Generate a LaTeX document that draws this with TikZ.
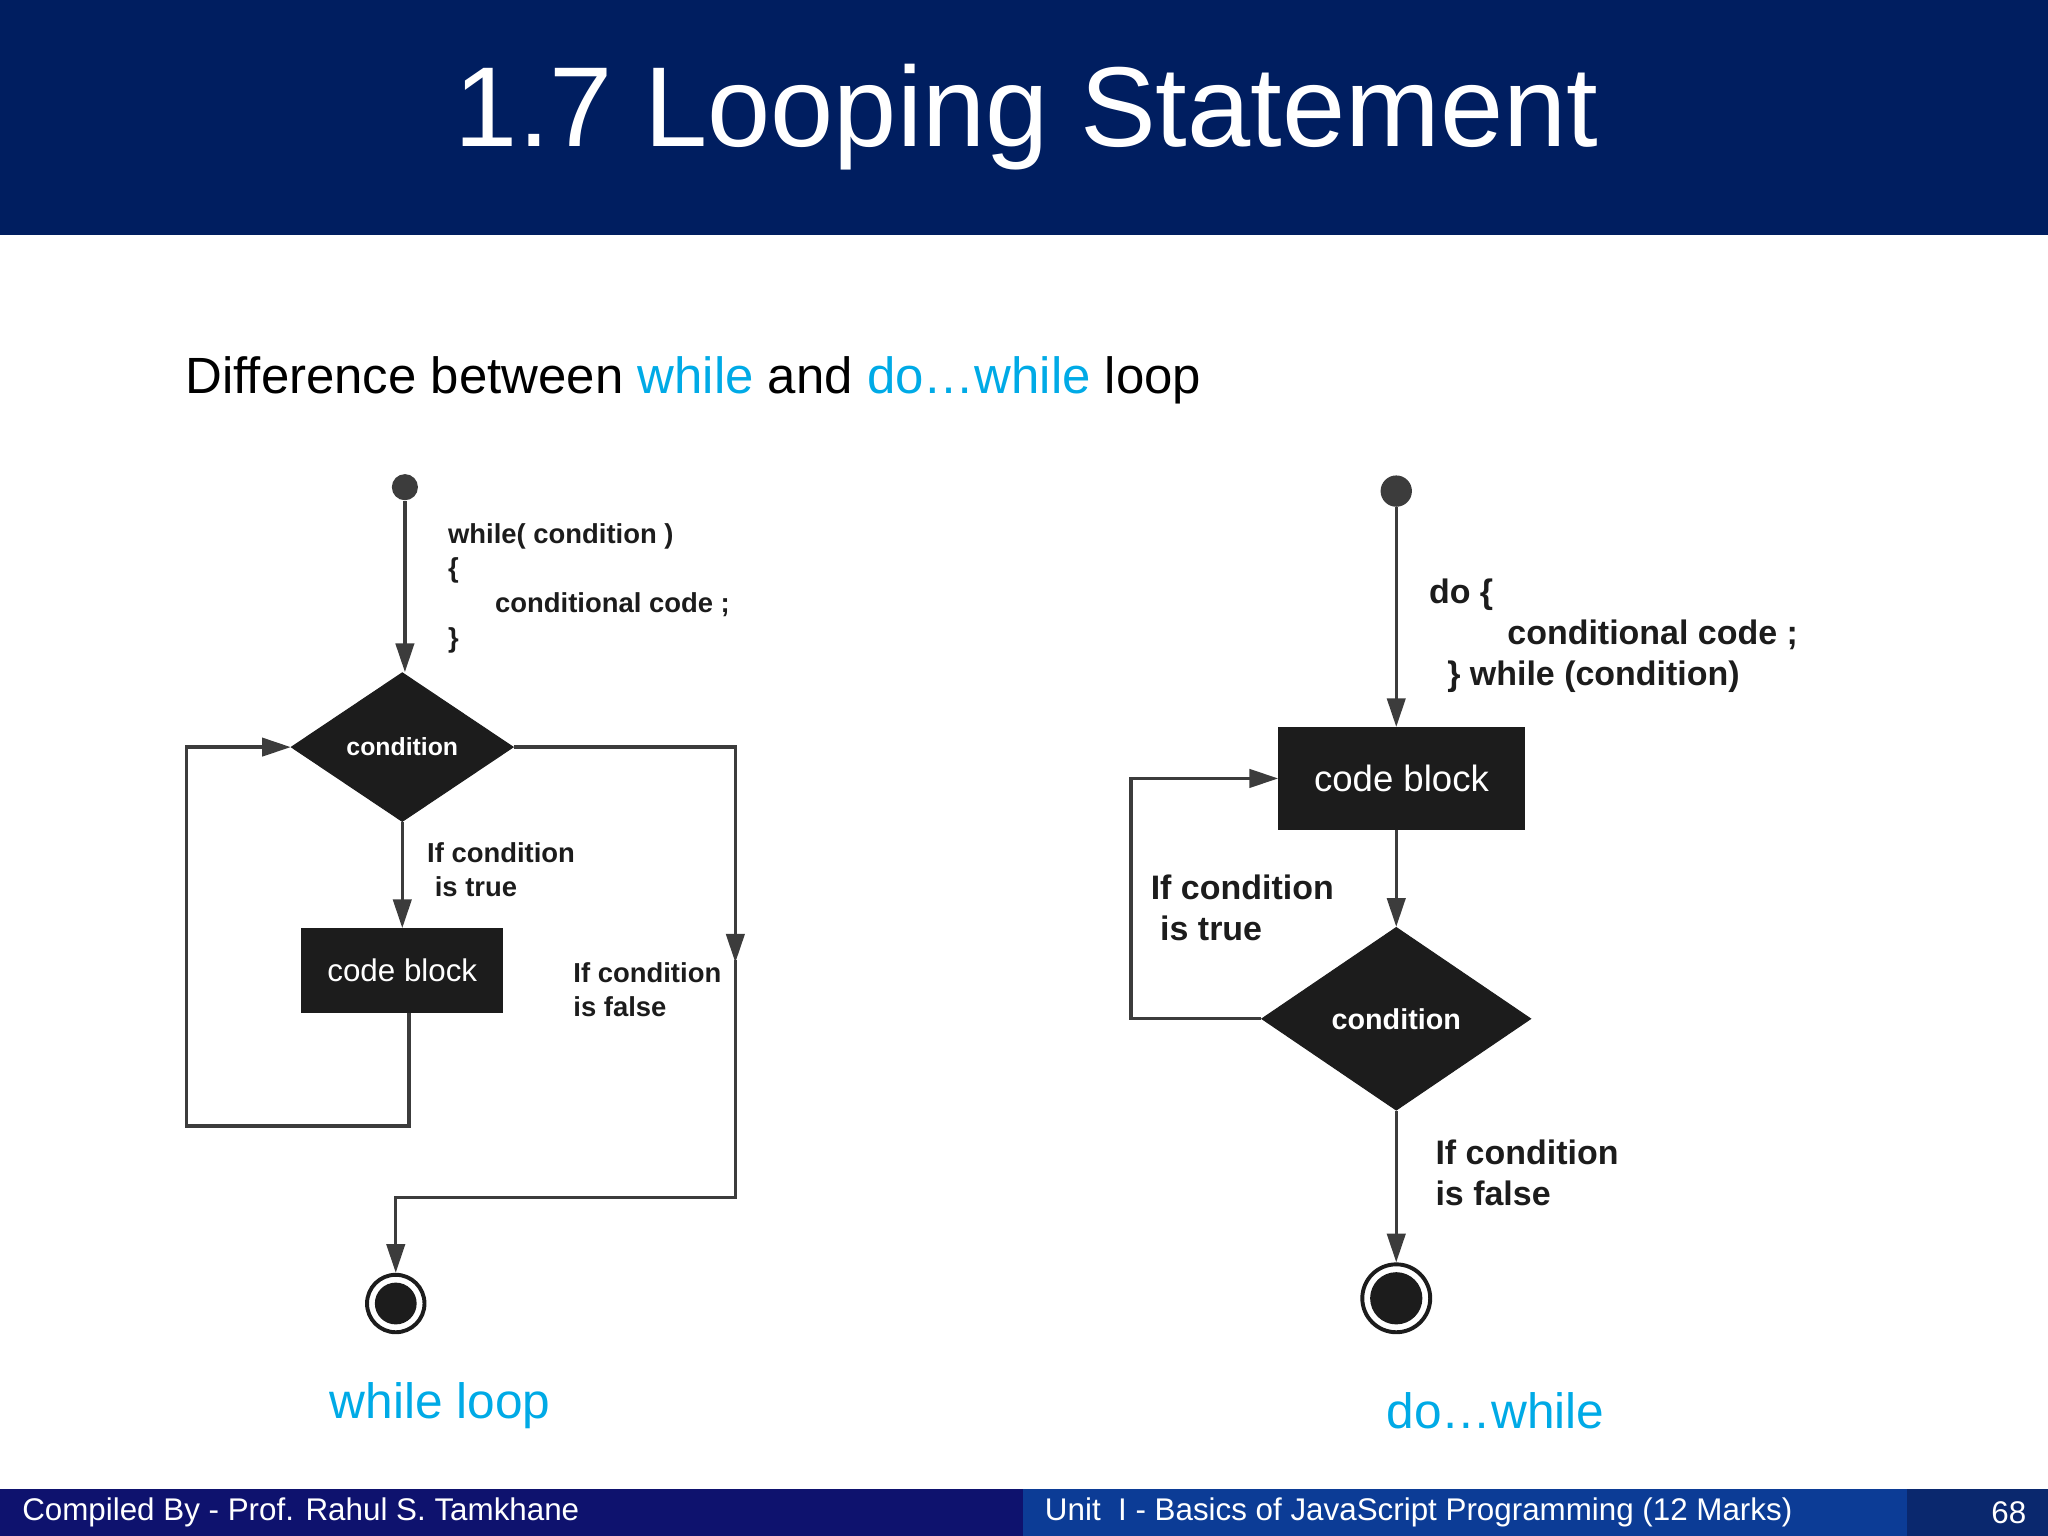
\documentclass[tikz,border=0pt]{standalone}
\usepackage{fontspec}
\setmainfont{Liberation Sans}
\usetikzlibrary{shapes.geometric,arrows.meta}
\definecolor{navy}{RGB}{0,30,96}
\definecolor{foot}{RGB}{14,18,110}
\definecolor{footb}{RGB}{12,60,150}
\definecolor{footc}{RGB}{10,40,110}
\definecolor{cy}{RGB}{0,170,230}
\definecolor{ln}{RGB}{60,60,60}
\definecolor{blk}{RGB}{28,28,28}
\begin{document}
\begin{tikzpicture}[x=0.5pt,y=-0.5pt,
  flow/.style={draw=ln,line width=1.3pt},
  arr/.style={flow,-{Triangle[length=11pt,width=7pt]}},
  blockbox/.style={fill=blk,draw=blk,text=white,minimum width=77pt,minimum height=32pt,font=\fontsize{12}{14}\selectfont},
  dia/.style={diamond,fill=blk,draw=blk,text=white,aspect=1.48,inner sep=0pt,font=\bfseries\fontsize{9.5}{11}\selectfont},
  lblL/.style={anchor=west,align=left,text=blk,font=\bfseries\fontsize{10.5}{13}\selectfont},
  lblR/.style={anchor=west,align=left,text=blk,font=\bfseries\fontsize{13}{16}\selectfont},
  startdot/.style={circle,fill=ln,inner sep=0pt,minimum size=10pt}]
\useasboundingbox (0,0) rectangle (1568,1176);
\fill[navy] (0,0) rectangle (1568,180);
\node (title) at (786,90) {\color{white}\fontsize{43.5}{52}\selectfont 1.7 Looping Statement};
\node[anchor=west] (sub) at (135,291) {\fontsize{19.5}{23}\selectfont Difference between \textcolor{cy}{while} and \textcolor{cy}{do…while} loop};
% footer
\fill[foot] (0,1140) rectangle (783,1176);
\fill[footb] (783,1140) rectangle (1460,1176);
\fill[footc] (1460,1140) rectangle (1568,1176);
\node[anchor=west,text=white,font=\fontsize{12}{14}\selectfont] (f1) at (10,1158) {Compiled By - Prof. Rahul S. Tamkhane};
\node[anchor=west,text=white,font=\fontsize{12}{14}\selectfont] (f2) at (793,1158) {Unit\ \ I - Basics of JavaScript Programming (12 Marks)};
\node[text=white,font=\fontsize{12}{14}\selectfont] (f3) at (1538,1158) {68};
% left diagram
\node[startdot] (s1) at (310,373) {};
\node[dia,minimum width=85pt,minimum height=57pt] (d1) at (308,572) {condition};
\node[blockbox] (b1) at (308,743) {code block};
\node[circle,draw=blk,line width=1.5pt,fill=white,minimum size=22pt,inner sep=0pt] (e1) at (303,998) {};
\fill[blk] (e1) circle (8pt);
\draw[arr] (s1) -- (d1.north -| s1);
\draw[arr] (d1.south) -- (b1.north);
\draw[arr] (d1.east) -- (563,572) -- (563,737);
\draw[arr] (563,735) -- (563,917) -- (303,917) -- (e1.north);
\draw[arr] (b1.south -| 313,0) -- (313,862) -- (143,862) -- (143,572) -- (d1.west);
\node[lblL] (t1) at (336,411) {while( condition )};
\node[lblL] at (336,437) {\{};
\node[lblL] at (372,463) {conditional code ;};
\node[lblL] at (336,490) {\}};
\node[lblL] (t2) at (320,666) {If condition\\\ is true};
\node[lblL] (t3) at (432,758) {If condition\\is false};
\node[text=cy,font=\fontsize{19}{22}\selectfont] (c1) at (337,1076) {while loop};
% right diagram
\node[startdot,minimum size=12pt] (s2) at (1069,376) {};
\node[blockbox,minimum width=94pt,minimum height=39pt,font=\fontsize{14}{16}\selectfont] (b2) at (1073,596) {code block};
\node[dia,minimum width=103pt,minimum height=70pt,font=\bfseries\fontsize{11}{13}\selectfont] (d2) at (1069,780) {condition};
\node[circle,draw=blk,line width=1.5pt,fill=white,minimum size=26pt,inner sep=0pt] (e2) at (1069,994) {};
\fill[blk] (e2) circle (10pt);
\draw[arr] (s2) -- (b2.north -| s2);
\draw[arr] (b2.south -| s2) -- (d2.north);
\draw[arr] (d2.west) -- (866,780) -- (866,596) -- (b2.west);
\draw[arr] (d2.south) -- (e2.north);
\node[lblR] (t4) at (1087,455) {do \{};
\node[lblR] at (1147,486) {conditional code ;};
\node[lblR] at (1101,518) {\} while (condition)};
\node[lblR] (t5) at (874,695) {If condition\\\ is true};
\node[lblR] (t6) at (1092,898) {If condition\\is false};
\node[text=cy,font=\fontsize{19}{22}\selectfont] (c2) at (1145,1080) {do…while};
\end{tikzpicture}
\end{document}
